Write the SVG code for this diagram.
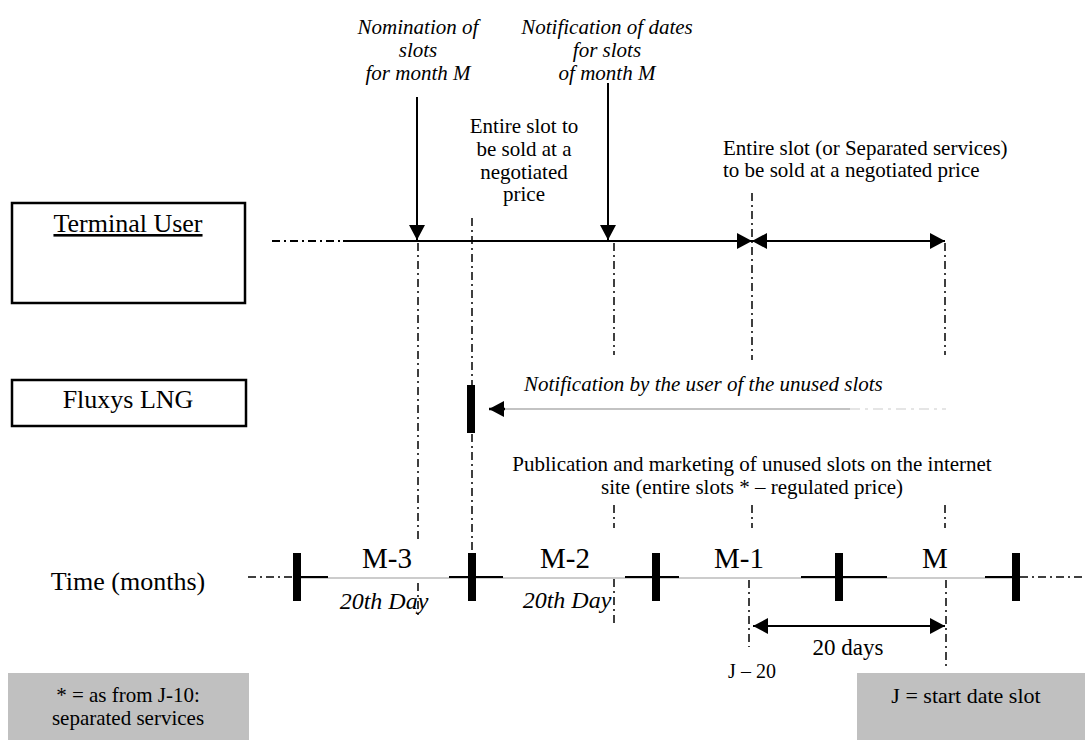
<svg xmlns="http://www.w3.org/2000/svg" width="1085" height="740" viewBox="0 0 1085 740">
<style>
.t{font-family:"Liberation Serif","Times New Roman",serif;font-size:21px;fill:#000}
.i{font-style:italic}
.c{text-anchor:middle}
.big{font-size:26px}
.mon{font-size:29px}
.box{fill:#fff;stroke:#000;stroke-width:2.5}
.gbox{fill:#c0c0c0;stroke:none}
.dd{stroke:#000;stroke-width:1.5;stroke-dasharray:8 4 2 4;fill:none}
.ln{stroke:#000;stroke-width:2;fill:none}
.bar{fill:#000}
</style>
<defs>
<marker id="ah" viewBox="0 0 15 16" refX="15" refY="8" markerWidth="15" markerHeight="16" orient="auto-start-reverse" markerUnits="userSpaceOnUse">
<path d="M0,0 L15,8 L0,16 z" fill="#000"/>
</marker>
</defs>

<g id="terminal-user">
<rect class="box" x="12" y="203" width="233" height="100"/>
<text class="t big c" x="128" y="232" text-decoration="underline">Terminal User</text>
</g>

<g id="fluxys-lng">
<rect class="box" x="12" y="380" width="234" height="46"/>
<text class="t big c" x="128" y="408">Fluxys LNG</text>
</g>

<g id="time-label">
<text class="t big c" x="128" y="590">Time (months)</text>
</g>

<g id="labels">
<text class="t i c" x="418" y="34">Nomination of</text>
<text class="t i c" x="418" y="57">slots</text>
<text class="t i c" x="418" y="80">for month M</text>
<text class="t i c" x="607" y="34">Notification of dates</text>
<text class="t i c" x="607" y="57">for slots</text>
<text class="t i c" x="607" y="80">of month M</text>
<text class="t c" x="524" y="133">Entire slot to</text>
<text class="t c" x="524" y="156">be sold at a</text>
<text class="t c" x="524" y="179">negotiated</text>
<text class="t c" x="524" y="201">price</text>
<text class="t" x="723" y="155">Entire slot (or Separated services)</text>
<text class="t" x="723" y="177">to be sold at a negotiated price</text>
<text class="t i" x="524" y="391">Notification by the user of the unused slots</text>
<text class="t c" x="752" y="471">Publication and marketing of unused slots on the internet</text>
<text class="t c" x="752" y="494">site (entire slots * – regulated price)</text>
<text class="t mon c" x="387" y="568">M-3</text>
<text class="t mon c" x="565" y="568">M-2</text>
<text class="t mon c" x="739" y="568">M-1</text>
<text class="t mon c" x="935" y="568">M</text>
<text class="t i c" x="384" y="609" style="font-size:24px">20th Day</text>
<text class="t i c" x="567" y="608" style="font-size:24px">20th Day</text>
<text class="t c" x="752" y="678" style="font-size:20px">J – 20</text>
<text class="t c" x="848" y="655" style="font-size:23px">20 days</text>
</g>

<g id="note-left">
<rect class="gbox" x="8" y="673" width="241" height="67"/>
<text class="t c" x="128" y="702">* = as from J-10:</text>
<text class="t c" x="128" y="725">separated services</text>
</g>

<g id="note-right">
<rect class="gbox" x="857" y="673" width="228" height="67"/>
<text class="t c" x="966" y="703" style="font-size:22px">J = start date slot</text>
</g>

<g id="connectors">
<!-- terminal user timeline -->
<line class="dd" x1="272" y1="241" x2="343" y2="241" style="stroke-width:2"/>
<line class="ln" x1="343" y1="241" x2="752" y2="241" marker-end="url(#ah)"/>
<line class="ln" x1="752" y1="241" x2="945" y2="241" marker-start="url(#ah)" marker-end="url(#ah)"/>
<line class="ln" x1="417" y1="97" x2="417" y2="240" marker-end="url(#ah)"/>
<line class="ln" x1="608" y1="83" x2="608" y2="240" marker-end="url(#ah)"/>

<!-- vertical guides -->
<line class="dd" x1="418" y1="243" x2="418" y2="540"/>
<line class="dd" x1="418" y1="583" x2="418" y2="619"/>
<line class="dd" x1="472" y1="218" x2="472" y2="553"/>
<line class="dd" x1="614" y1="243" x2="614" y2="355"/>
<line class="dd" x1="614" y1="505" x2="614" y2="528"/>
<line class="dd" x1="614" y1="579" x2="614" y2="623"/>
<line class="dd" x1="752" y1="193" x2="752" y2="360"/>
<line class="dd" x1="752" y1="505" x2="752" y2="528"/>
<line class="dd" x1="749" y1="580" x2="749" y2="647"/>
<line class="dd" x1="945" y1="243" x2="945" y2="355"/>
<line class="dd" x1="945" y1="505" x2="945" y2="528"/>
<line class="dd" x1="946" y1="580" x2="946" y2="667"/>

<!-- notification of unused slots -->
<rect class="bar" x="467" y="385" width="8" height="48"/>
<line class="ln" x1="489" y1="409" x2="505" y2="409" marker-start="url(#ah)" style="stroke-width:2.5"/>
<line x1="505" y1="409" x2="850" y2="409" stroke="#888" stroke-width="1.2"/>
<line x1="850" y1="409" x2="946" y2="409" stroke="#ddd" stroke-width="1.5" stroke-dasharray="10 5 3 5"/>

<!-- time axis -->
<line class="dd" x1="248" y1="577" x2="293" y2="577"/>
<line class="dd" x1="1020" y1="577" x2="1085" y2="577"/>
<line x1="297" y1="578" x2="1016" y2="578" stroke="#999" stroke-width="1.2"/>
<line class="ln" x1="297" y1="577" x2="328" y2="577"/>
<line class="ln" x1="449" y1="577" x2="503" y2="577"/>
<line class="ln" x1="625" y1="577" x2="679" y2="577"/>
<line class="ln" x1="801" y1="577" x2="887" y2="577"/>
<line class="ln" x1="985" y1="577" x2="1016" y2="577"/>
<rect class="bar" x="293" y="553" width="8" height="48"/>
<rect class="bar" x="468" y="553" width="8" height="48"/>
<rect class="bar" x="652" y="553" width="8" height="48"/>
<rect class="bar" x="835" y="553" width="8" height="48"/>
<rect class="bar" x="1012" y="553" width="8" height="48"/>

<!-- 20 days -->
<line class="ln" x1="753" y1="626" x2="945" y2="626" marker-start="url(#ah)" marker-end="url(#ah)"/>
</g>
</svg>
